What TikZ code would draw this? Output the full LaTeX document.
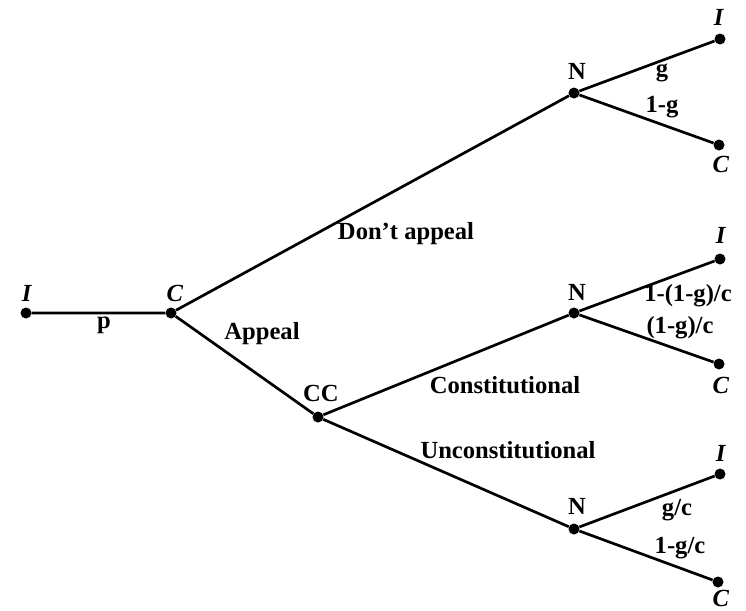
\documentclass[tikz,border=0pt]{standalone}
\usepackage{fontspec}
\setmainfont{Liberation Serif}
\tikzset{dot/.style={circle,fill,inner sep=0pt,minimum size=0.33cm},
  lbl/.style={font=\fontsize{21}{25}\selectfont\bfseries},
  branch/.style={line width=2.3pt}}

\begin{document}
\begin{tikzpicture}[x=0.03cm,y=-0.03cm]
\useasboundingbox (0,0) rectangle (746,611);
\node[dot] (i0) at (26,313) {}; \node[dot] (c0) at (171,313) {}; \node[dot] (cc) at (318,417) {};
\node[dot] (n1) at (574,93) {}; \node[dot] (n2) at (574,313) {}; \node[dot] (n3) at (574,529) {};
\node[dot] (i1) at (720,39) {}; \node[dot] (c1) at (719,145) {};
\node[dot] (i2) at (720,259) {}; \node[dot] (c2) at (719,364) {};
\node[dot] (i3) at (720,474) {}; \node[dot] (c3) at (718,582) {};
\draw[branch] (i0) -- (c0) -- (n1); \draw[branch] (c0) -- (cc) -- (n2); \draw[branch] (cc) -- (n3);
\draw[branch] (i1) -- (n1) -- (c1); \draw[branch] (i2) -- (n2) -- (c2); \draw[branch] (i3) -- (n3) -- (c3);
% players
\node[lbl] (ti0) at (27,293) {\textit{I}}; \node[lbl] (tc0) at (175,293) {\textit{C}}; \node[lbl] (tcc) at (321,393) {CC};
\node[lbl] (tn1) at (577,71) {N}; \node[lbl] (tn2) at (577,292) {N}; \node[lbl] (tn3) at (577,506) {N};
\node[lbl] (ti1) at (719,17) {\textit{I}}; \node[lbl] (tc1) at (721,164) {\textit{C}};
\node[lbl] (ti2) at (721,235) {\textit{I}}; \node[lbl] (tc2) at (721,385) {\textit{C}};
\node[lbl] (ti3) at (721,453) {\textit{I}}; \node[lbl] (tc3) at (721,598) {\textit{C}};
% moves
\node[lbl] (mp) at (104,325) {p}; \node[lbl] (ma) at (262,334) {Appeal}; \node[lbl] (md) at (406,234) {Don't appeal};
\node[lbl] (mc) at (505,385) {Constitutional}; \node[lbl] (mu) at (508,450) {Unconstitutional};
\node[lbl] (g1) at (662,73) {g}; \node[lbl] (g2) at (662,107) {1-g};
\node[lbl] (g3) at (688,296) {1-(1-g)/c}; \node[lbl] (g4) at (680,328) {(1-g)/c};
\node[lbl] (g5) at (677,510) {g/c}; \node[lbl] (g6) at (680,548) {1-g/c};
\end{tikzpicture}
\end{document}
